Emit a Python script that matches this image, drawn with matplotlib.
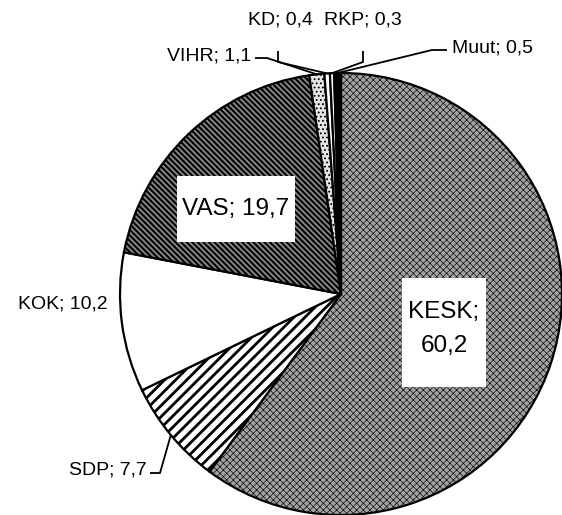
import matplotlib.pyplot as plt
from matplotlib.patches import Rectangle
import numpy as np

# Data
parties = ['KESK', 'SDP', 'KOK', 'VAS', 'VIHR', 'KD', 'RKP', 'Muut']
shares = [60.2, 7.7, 10.2, 19.7, 1.1, 0.4, 0.3, 0.5]
share_txt = ['60,2', '7,7', '10,2', '19,7', '1,1', '0,4', '0,3', '0,5']

# Fill styles (black & white print look)
faces = ['#a2a2a2', 'white', 'white', '#8a8a8a', '#e4e4e4', 'white', 'white', 'black']
hatches = ['xxxxx', '///', '', '\\\\\\\\\\\\', '....', '', '', '']
hatch_lw = [0.45, 2.0, 1.0, 1.5, 0.8, 1.0, 1.0, 1.0]

plt.rcParams['font.family'] = ['Liberation Sans', 'DejaVu Sans']

W, H = 562, 515
CX, CY, R = 341, 294, 221   # pie centre / radius in pixels


def px(x, y):
    # pixel position (from top-left) -> data coords
    return (x - CX) / R, (CY - y) / R


fig = plt.figure(figsize=(W / 100, H / 100), dpi=100)
ax = fig.add_axes([0, 0, 1, 1])

wedges, _ = ax.pie(shares, startangle=90, counterclock=False, colors=faces,
                   hatch=hatches,
                   wedgeprops=dict(edgecolor='black', linewidth=1.6))
for w, lw in zip(wedges, hatch_lw):
    if hasattr(w, 'set_hatch_linewidth'):
        w.set_hatch_linewidth(lw)

ax.set_aspect('auto')
ax.set_xlim(-CX / R, (W - CX) / R)
ax.set_ylim(-(H - CY) / R, CY / R)
ax.axis('off')


def anchor(i):
    w = wedges[i]
    a = np.deg2rad((w.theta1 + w.theta2) / 2)
    return np.cos(a) * w.r, np.sin(a) * w.r


small = 14
lab = {p: f'{p}; {t}' for p, t in zip(parties, share_txt)}

# outside labels: (text pos, alignment, leader elbow points)
outside = {
    'VIHR': ((251, 56), 'right', [(255, 58), (267, 58)]),
    'KD': ((280, 20), 'center', [(278, 51), (278, 62)]),
    'RKP': ((363, 20), 'center', [(363, 51), (363, 62)]),
    'Muut': ((452, 48), 'left', [(447, 50), (432, 50)]),
    'KOK': ((108, 304), 'right', []),
    'SDP': ((147, 470), 'right', [(150, 473), (160, 473)]),
}
for p, (pos, ha, elbow) in outside.items():
    i = parties.index(p)
    ax.text(*px(*pos), lab[p], ha=ha, va='center', fontsize=small)
    if elbow:
        pts = [px(*e) for e in elbow] + [anchor(i)]
        xs, ys = zip(*pts)
        ax.plot(xs, ys, color='black', lw=1.3, solid_capstyle='butt')

# inside labels with white boxes
boxes = {
    'VAS': ((177, 176, 295, 242), (236, 209), lab['VAS']),
    'KESK': ((402, 278, 486, 387), (444, 329), 'KESK;\n' + share_txt[0]),
}
for p, ((x0, y0, x1, y1), c, txt) in boxes.items():
    bx, by = px(x0, y1)
    ax.add_patch(Rectangle((bx, by), (x1 - x0) / R, (y1 - y0) / R,
                           facecolor='white', edgecolor='none', zorder=3))
    ax.text(*px(*c), txt, ha='center', va='center', fontsize=17.5,
            linespacing=1.75, zorder=4)

plt.savefig('out.png', dpi=100)
